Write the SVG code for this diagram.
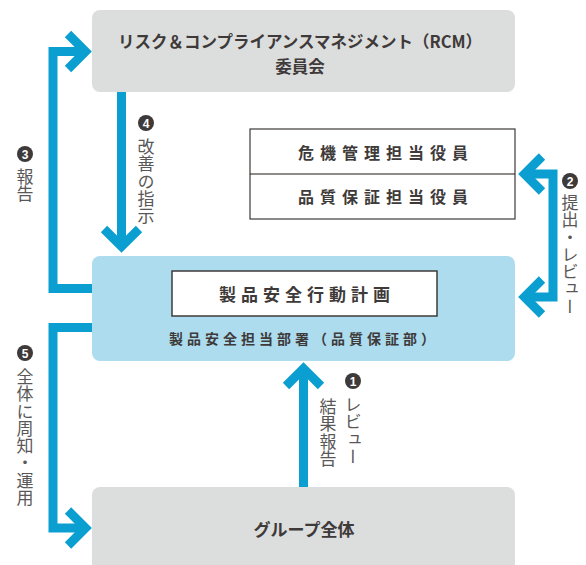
<svg xmlns="http://www.w3.org/2000/svg" width="586" height="565" viewBox="0 0 586 565">
<defs>
<style>
.gray{fill:#dcdddd}
.blue{fill:#acdcee}
.title{font-family:"Noto Sans CJK JP","Noto Sans",sans-serif;font-weight:700;fill:#3e3a39;text-anchor:middle;dominant-baseline:central}
.lbl{font-family:"Noto Sans CJK JP","Noto Sans",sans-serif;font-weight:400;font-size:17px;fill:#595757;writing-mode:vertical-rl;letter-spacing:0.3px}
.arr{fill:none;stroke:#0a9fd0;stroke-width:9;stroke-linejoin:miter;stroke-linecap:butt;stroke-miterlimit:10}
.num circle{fill:#3e3a39}
.num text{font-family:"Liberation Sans","DejaVu Sans",sans-serif;font-weight:700;font-size:12px;fill:#fff;text-anchor:middle;dominant-baseline:central}
</style>
</defs>
<rect width="586" height="565" fill="#fff"/>

<g id="rcm">
<rect class="gray" x="92" y="10" width="423" height="82" rx="8"/>
<text class="title" x="300" y="41" font-size="16.5">リスク＆コンプライアンスマネジメント（RCM）</text>
<text class="title" x="300" y="66" font-size="16.5">委員会</text>
</g>

<g id="officers">
<rect x="250" y="129" width="265" height="90" fill="#fff" stroke="#3e3a39" stroke-width="1.2"/>
<line x1="250" y1="174" x2="515" y2="174" stroke="#231815" stroke-width="1.2"/>
<text class="title" x="386" y="152" font-size="16" letter-spacing="6">危機管理担当役員</text>
<text class="title" x="386" y="196" font-size="16" letter-spacing="6">品質保証担当役員</text>
</g>

<g id="dept">
<rect class="blue" x="92" y="256" width="423" height="105" rx="8"/>
<rect x="172" y="271" width="265" height="45" fill="#fff" stroke="#3e3a39" stroke-width="1.5"/>
<text class="title" x="307" y="293.5" font-size="17" letter-spacing="5">製品安全行動計画</text>
<text class="title" x="304" y="338" font-size="14" letter-spacing="4">製品安全担当部署（品質保証部）</text>
</g>

<g id="group">
<rect class="gray" x="92" y="487" width="423" height="95" rx="8"/>
<text class="title" x="304" y="528" font-size="17">グループ全体</text>
</g>

<g id="connectors">
<path class="arr" d="M92 288.5 H53 V51.5 H86"/>
<path class="arr" d="M68 34 L85.5 51.5 L68 69"/>
<path class="arr" d="M121.5 92 V246"/>
<path class="arr" d="M104 229 L121.5 246.5 L139 229"/>
<path class="arr" d="M92 327.5 H53 V528 H86"/>
<path class="arr" d="M68 510.5 L85.5 528 L68 545.5"/>
<path class="arr" d="M303.5 487 V369"/>
<path class="arr" d="M286 386 L303.5 368.5 L321 386"/>
<path class="arr" d="M524 174 H553 V297 H524"/>
<path class="arr" d="M542 156.5 L524.5 174 L542 191.5"/>
<path class="arr" d="M542 279.5 L524.5 297 L542 314.5"/>
</g>

<g id="labels">
<g class="num"><circle cx="25" cy="154" r="8"/><text x="25" y="154.5">3</text></g>
<text class="lbl" x="25" y="168">報告</text>
<g class="num"><circle cx="146" cy="123" r="8"/><text x="146" y="123.5">4</text></g>
<text class="lbl" x="146" y="138">改善の指示</text>
<g class="num"><circle cx="570" cy="181" r="8"/><text x="570" y="181.5">2</text></g>
<text class="lbl" x="570" y="194">提出・レビュー</text>
<g class="num"><circle cx="353" cy="381" r="8"/><text x="353" y="381.5">1</text></g>
<text class="lbl" x="353" y="396">レビュー</text>
<text class="lbl" x="328" y="398">結果報告</text>
<g class="num"><circle cx="25" cy="353" r="8"/><text x="25" y="353.5">5</text></g>
<text class="lbl" x="25" y="368">全体に周知・運用</text>
</g>
</svg>
